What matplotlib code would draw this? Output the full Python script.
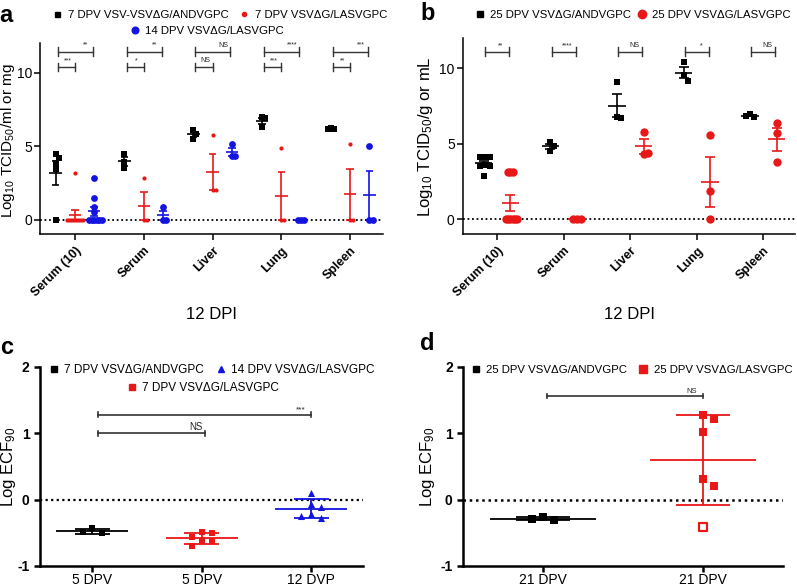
import numpy as np
import matplotlib
matplotlib.use('Agg')
import matplotlib.pyplot as plt
from matplotlib.lines import Line2D

plt.rcParams['font.family'] = ['Liberation Sans', 'DejaVu Sans']
plt.rcParams['mathtext.fontset'] = 'custom'
plt.rcParams['mathtext.rm'] = 'Liberation Sans'
plt.rcParams['mathtext.it'] = 'Liberation Sans:italic'
plt.rcParams['mathtext.bf'] = 'Liberation Sans:bold'

RED = '#e81818'
BLUE = '#1414e0'
BLK = '#000000'

# ---- panel a data (Log10 TCID50, 12 DPI)
tissues = ['Serum (10)', 'Serum', 'Liver', 'Lung', 'Spleen']
a_andv7 = [[4.5, 4.2, 3.85, 3.45, 0.0], [4.5, 3.9, 3.5], [6.1, 5.85, 5.5],
           [7.0, 6.9, 6.3], [6.25, 6.15, 6.2]]
a_lasv7 = [[3.2, 0, 0, 0, 0, 0, 0, 0, 0, 0], [2.85, 0, 0], [5.75, 2.0, 2.0],
           [4.85, 0, 0], [5.15, 0, 0]]
a_lasv14 = [[2.85, 1.5, 0.85, 0.5, 0, 0, 0, 0, 0, 0], [0.85, 0, 0], [5.15, 4.3, 4.3],
            [0, 0, 0], [5.0, 0, 0]]
a_sig_top = ['**', '**', 'NS', '****', '***']
a_sig_low = ['***', '*', 'NS', '***', '**']

# ---- panel b data
b_andv25 = [[4.15, 4.15, 4.15, 4.1, 3.6, 3.6, 3.55, 3.5, 2.85], [5.1, 4.85, 4.55],
            [9.1, 6.8, 6.7], [10.45, 9.55, 9.15], [6.95, 6.8, 6.85]]
b_lasv25 = [[3.15, 3.15, 3.15, 0, 0, 0, 0, 0, 0], [0, 0, 0], [5.75, 4.3, 4.4],
            [5.6, 1.85, 0], [6.35, 5.7, 3.8]]
b_sig = ['**', '****', 'NS', '*', 'NS']

# ---- panel c data (Log ECF90)
c_labels = ['5 DPV', '5 DPV', '12 DVP']
c_andv7 = [-0.43, -0.51, -0.49]
c_lasv7 = [-0.49, -0.51, -0.56, -0.62, -0.62, -0.70]
c_lasv14 = [0.1, -0.07, -0.11, -0.21, -0.27, -0.25]

# ---- panel d data
d_labels = ['21 DPV', '21 DPV']
d_andv25 = [-0.255, -0.305, -0.295]
d_lasv25 = [1.27, 1.22, 1.02, 0.31, 0.2, -0.415]
d_open = [False, False, False, False, False, True]


def swarm(vals, d, ytol, maxw):
    placed = []
    offs = []
    for v in vals:
        k = 0
        while True:
            c = ((k + 1) // 2) * d * (1 if k % 2 else -1)
            if all(abs(v - pv) >= ytol or abs(c - po) >= d * 0.99 for pv, po in placed):
                break
            k += 1
        placed.append((v, c))
        offs.append(c)
    offs = np.array(offs, dtype=float)
    m = np.abs(offs).max()
    if m > maxw:
        offs *= maxw / m
    return offs


def mean_bar(ax, x, vals, color, mw, cw, kind, lw=1.2):
    v = np.array(vals, dtype=float)
    m = v.mean()
    e = v.std(ddof=1)
    if kind == 'sem':
        e = e / np.sqrt(len(v))
    ax.hlines(m, x - mw, x + mw, color=color, lw=lw, zorder=4)
    ax.vlines(x, m - e, m + e, color=color, lw=lw, zorder=4)
    ax.hlines([m - e, m + e], x - cw, x + cw, color=color, lw=lw, zorder=4)


def bracket(ax, x0, x1, y, h, label, lx, fs=5, lw=1.0):
    ax.plot([x0, x1], [y, y], color='#333333', lw=lw, clip_on=False)
    ax.plot([x0, x0], [y - h, y + h], color='#333333', lw=lw, clip_on=False)
    ax.plot([x1, x1], [y - h, y + h], color='#333333', lw=lw, clip_on=False)
    ax.text(lx, y + h * 0.6, label, fontsize=fs, ha='center', va='bottom', color='#222222')


def style(ax, lw):
    for s in ['top', 'right']:
        ax.spines[s].set_visible(False)
    ax.spines['left'].set_linewidth(lw)
    ax.spines['bottom'].set_linewidth(lw)
    ax.tick_params(width=lw, length=4, direction='out')


fig = plt.figure(figsize=(7.97, 5.87), dpi=100)

# ================= panel a
ax = fig.add_axes([0.050, 0.601, 0.430, 0.325])
style(ax, 1.1)
xs = np.arange(len(tissues))
groups = [(a_andv7, -0.28, BLK, 's', 13), (a_lasv7, 0.0, RED, 'o', 9), (a_lasv14, 0.28, BLUE, 'o', 24)]
for data, off, col, mk, sz in groups:
    for i, vals in enumerate(data):
        o = swarm(vals, 0.045, 0.33, 0.11)
        ax.scatter(xs[i] + off + o, vals, s=sz, marker=mk, color=col, lw=0, zorder=3)
        mean_bar(ax, xs[i] + off, vals, col, 0.09, 0.055, 'sem')
for i in range(len(tissues)):
    bracket(ax, xs[i] - 0.25, xs[i] + 0.26, 11.45, 0.3, a_sig_top[i], xs[i] + 0.15)
    bracket(ax, xs[i] - 0.25, xs[i] + 0.0, 10.4, 0.3, a_sig_low[i], xs[i] - 0.11)
ax.axhline(0, color='black', ls=(0, (1, 1.5)), lw=1.3, zorder=1)
ax.set_xlim(-0.51, 4.47)
ax.set_ylim(-1, 12)
ax.set_yticks([0, 5, 10])
ax.set_xticks(xs)
ax.set_xticklabels(tissues, rotation=45, ha='right', rotation_mode='anchor',
                   fontsize=9, fontweight='bold')
ax.tick_params(axis='y', labelsize=10, pad=1.5)
ax.set_ylabel('Log$_{10}$ TCID$_{50}$/ml or mg', fontsize=11)
ax.yaxis.set_label_coords(-0.068, 0.49)
ax.set_xlabel('12 DPI', fontsize=12, labelpad=6)

h1 = [Line2D([], [], ls='none', marker='s', color=BLK, markersize=3.6, label='7 DPV VSV-VSVΔG/ANDVGPC'),
      Line2D([], [], ls='none', marker='o', color=RED, markersize=3.0, label='7 DPV VSVΔG/LASVGPC')]
h2 = [Line2D([], [], ls='none', marker='o', color=BLUE, markersize=4.8, label='14 DPV VSVΔG/LASVGPC')]
fig.legend(handles=h1, ncol=2, loc='center', bbox_to_anchor=(220 / 797, 1 - 15 / 587),
           frameon=False, fontsize=8.2, handlelength=0.8, handletextpad=0.5, columnspacing=1.0)
fig.legend(handles=h2, ncol=1, loc='center', bbox_to_anchor=(207 / 797, 1 - 31 / 587),
           frameon=False, fontsize=8.2, handlelength=0.8, handletextpad=0.5)
fig.text(6 / 797, 1 - 16 / 587, 'a', fontsize=17, fontweight='bold', ha='center', va='center')

# ================= panel b
ax = fig.add_axes([0.581, 0.601, 0.417, 0.334])
style(ax, 1.1)
groups = [(b_andv25, -0.2, BLK, 's', 24), (b_lasv25, 0.2, RED, 'o', 36)]
for data, off, col, mk, sz in groups:
    for i, vals in enumerate(data):
        o = swarm(vals, 0.06, 0.45, 0.1)
        ax.scatter(xs[i] + off + o, vals, s=sz, marker=mk, color=col, lw=0, zorder=3)
        mean_bar(ax, xs[i] + off, vals, col, 0.13, 0.075, 'sem')
for i in range(len(tissues)):
    bracket(ax, xs[i] - 0.18, xs[i] + 0.18, 11.1, 0.3, b_sig[i], xs[i] + 0.06)
ax.axhline(0, color='black', ls=(0, (1, 1.5)), lw=1.3, zorder=1)
ax.set_xlim(-0.51, 4.48)
ax.set_ylim(-1, 12)
ax.set_yticks([0, 5, 10])
ax.set_xticks(xs)
ax.set_xticklabels(tissues, rotation=45, ha='right', rotation_mode='anchor',
                   fontsize=9, fontweight='bold')
ax.tick_params(axis='y', labelsize=10, pad=2)
ax.set_ylabel('Log$_{10}$ TCID$_{50}$/g or mL', fontsize=12)
ax.yaxis.set_label_coords(-0.084, 0.5)
ax.set_xlabel('12 DPI', fontsize=12, labelpad=6)
hb = [Line2D([], [], ls='none', marker='s', color=BLK, markersize=4.5, label='25 DPV VSVΔG/ANDVGPC'),
      Line2D([], [], ls='none', marker='o', color=RED, markersize=6, label='25 DPV VSVΔG/LASVGPC')]
fig.legend(handles=hb, ncol=2, loc='center', bbox_to_anchor=(633 / 797, 1 - 15 / 587),
           frameon=False, fontsize=8.2, handlelength=0.8, handletextpad=0.5, columnspacing=0.6)
fig.text(428 / 797, 1 - 13 / 587, 'b', fontsize=17, fontweight='bold', ha='center', va='center')

# ================= panel c
ax = fig.add_axes([0.050, 0.0358, 0.405, 0.339])
style(ax, 1.8)
cx = np.arange(len(c_labels))
groups = [(c_andv7, 0, BLK, 's', 19), (c_lasv7, 1, RED, 's', 22), (c_lasv14, 2, BLUE, '^', 26)]
for vals, x, col, mk, sz in groups:
    o = swarm(vals, 0.09, 0.09, 0.15)
    ax.scatter(x + o, vals, s=sz, marker=mk, color=col, lw=0, zorder=3)
    mean_bar(ax, x, vals, col, 0.33, 0.16, 'sd', lw=1.3)
bracket(ax, 0.05, 2.0, 1.28, 0.035, '***', 1.9, fs=6, lw=1.2)
bracket(ax, 0.05, 1.03, 1.0, 0.035, 'NS', 0.95, fs=7, lw=1.2)
ax.axhline(0, color='black', ls=(0, (1, 1.5)), lw=1.6, zorder=1)
ax.set_xlim(-0.48, 2.47)
ax.set_ylim(-1, 2)
ax.set_yticks([-1, 0, 1, 2])
ax.set_yticklabels(['-1', '0', '1', '2'], fontweight='bold', fontsize=10)
ax.set_xticks(cx)
ax.set_xticklabels(c_labels, fontsize=10)
ax.tick_params(axis='x', pad=1)
ax.set_ylabel('Log ECF$_{90}$', fontsize=12)
ax.yaxis.set_label_coords(-0.068, 0.5)
hc1 = [Line2D([], [], ls='none', marker='s', color=BLK, markersize=4.5, label='7 DPV VSVΔG/ANDVGPC'),
       Line2D([], [], ls='none', marker='^', color=BLUE, markersize=5, label='14 DPV VSVΔG/LASVGPC')]
hc2 = [Line2D([], [], ls='none', marker='s', color=RED, markersize=5, label='7 DPV VSVΔG/LASVGPC')]
fig.legend(handles=hc1, ncol=2, loc='center', bbox_to_anchor=(212 / 797, 1 - 370 / 587),
           frameon=False, fontsize=8.5, handlelength=0.8, handletextpad=0.5, columnspacing=1.0)
fig.legend(handles=hc2, ncol=1, loc='center', bbox_to_anchor=(203 / 797, 1 - 388 / 587),
           frameon=False, fontsize=8.5, handlelength=0.8, handletextpad=0.5)
fig.text(7 / 797, 1 - 347 / 587, 'c', fontsize=17, fontweight='bold', ha='center', va='center')

# ================= panel d
ax = fig.add_axes([0.581, 0.0358, 0.4015, 0.339])
style(ax, 1.8)
dx = np.arange(len(d_labels))
o = swarm(d_andv25, 0.07, 0.12, 0.2)
ax.scatter(dx[0] + o, d_andv25, s=36, marker='s', color=BLK, lw=0, zorder=3)
mean_bar(ax, dx[0], d_andv25, BLK, 0.33, 0.17, 'sd', lw=1.3)
o = swarm(d_lasv25, 0.07, 0.12, 0.2)
for xv, yv, op in zip(dx[1] + o, d_lasv25, d_open):
    if op:
        ax.scatter(xv, yv, s=30, marker='s', facecolor='white', edgecolor=RED, lw=1.6, zorder=3)
    else:
        ax.scatter(xv, yv, s=36, marker='s', color=RED, lw=0, zorder=3)
mean_bar(ax, dx[1], d_lasv25, RED, 0.33, 0.17, 'sd', lw=1.3)
bracket(ax, 0.025, 1.0, 1.56, 0.035, 'NS', 0.93, fs=5.5, lw=1.2)
ax.axhline(0, color='black', ls=(0, (1, 1.5)), lw=1.8, zorder=1)
ax.set_xlim(-0.5, 1.5)
ax.set_ylim(-1, 2)
ax.set_yticks([-1, 0, 1, 2])
ax.set_yticklabels(['-1', '0', '1', '2'], fontweight='bold', fontsize=10)
ax.set_xticks(dx)
ax.set_xticklabels(d_labels, fontsize=10)
ax.tick_params(axis='x', pad=1)
ax.set_ylabel('Log ECF$_{90}$', fontsize=12)
ax.yaxis.set_label_coords(-0.081, 0.5)
hd = [Line2D([], [], ls='none', marker='s', color=BLK, markersize=5, label='25 DPV VSVΔG/ANDVGPC'),
      Line2D([], [], ls='none', marker='s', color=RED, markersize=6, label='25 DPV VSVΔG/LASVGPC')]
fig.legend(handles=hd, ncol=2, loc='center', bbox_to_anchor=(632 / 797, 1 - 370 / 587),
           frameon=False, fontsize=8.2, handlelength=0.8, handletextpad=0.5, columnspacing=1.0)
fig.text(427 / 797, 1 - 344 / 587, 'd', fontsize=17, fontweight='bold', ha='center', va='center')

fig.savefig('out.png', dpi=100)
